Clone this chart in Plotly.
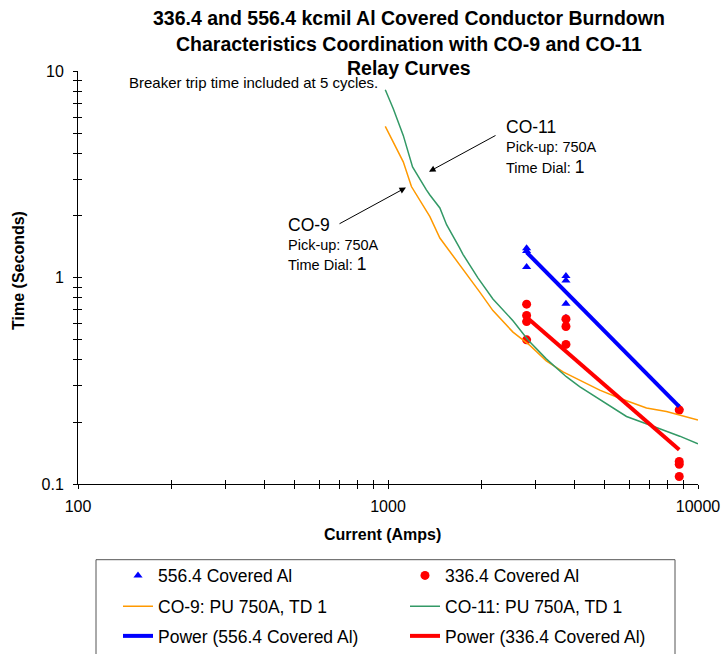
import plotly.graph_objects as go

# ---------------- data ----------------
cur_556 = [2800, 2800, 2800, 3750, 3750, 3750, 3750, 8700]
time_556 = [1.39, 1.35, 1.13, 1.02, 0.97, 0.75, 0.64, 0.235]

cur_336 = [2800, 2800, 2800, 2800, 3750, 3750, 3750, 8700, 8700, 8700, 8700]
time_336 = [0.746, 0.657, 0.614, 0.501, 0.632, 0.581, 0.476, 0.229, 0.129, 0.125, 0.109]

co9_cur = [980, 1040, 1120, 1190, 1270, 1365, 1470, 1580, 1790, 1980, 2180, 2530,
           2870, 3240, 3670, 4150, 4820, 5590, 6820, 7910, 9400, 10000]
co9_time = [5.42, 4.56, 3.65, 2.77, 2.35, 1.98, 1.56, 1.35, 1.04, 0.85, 0.694, 0.546,
            0.471, 0.396, 0.350, 0.320, 0.286, 0.261, 0.234, 0.225, 0.209, 0.205]

co11_cur = [980, 1040, 1120, 1200, 1330, 1365, 1470, 1545, 1700, 1745, 1950, 2180,
            2530, 2830, 3240, 3760, 4150, 5060, 5880, 7160, 8730, 10000]
co11_time = [8.16, 6.59, 4.90, 3.45, 2.67, 2.52, 2.18, 1.81, 1.40, 1.30, 1.0, 0.79,
             0.62, 0.50, 0.405, 0.332, 0.297, 0.247, 0.213, 0.191, 0.171, 0.157]

trend_556_cur = [2800, 8700]
trend_556_time = [1.33, 0.238]
trend_336_cur = [2800, 8700]
trend_336_time = [0.645, 0.147]

x_tickvals = [100, 200, 300, 400, 500, 600, 700, 800, 900,
              1000, 2000, 3000, 4000, 5000, 6000, 7000, 8000, 9000, 10000]
x_ticktext = ["100"] + [""] * 8 + ["1000"] + [""] * 8 + ["10000"]
y_tickvals = [0.1, 0.2, 0.3, 0.4, 0.5, 0.6, 0.7, 0.8, 0.9,
              1, 2, 3, 4, 5, 6, 7, 8, 9, 10]
y_ticktext = ["0.1"] + [""] * 8 + ["1"] + [""] * 8 + ["10"]

title_lines = ["336.4 and 556.4 kcmil Al Covered Conductor Burndown",
               "Characteristics Coordination with CO-9 and CO-11",
               "Relay Curves"]

# ---------------- layout helpers (paper == whole figure) ----------------
W, H = 725, 654
PLOT_L, PLOT_R, PLOT_T, PLOT_B = 78, 698, 72, 488
FONT = "Liberation Sans, Arial, sans-serif"


def px(xp):
    return xp / W


def py(yp):
    return 1 - yp / H


fig = go.Figure()

fig.add_trace(go.Scatter(x=cur_556, y=time_556, mode="markers", name="556.4 Covered Al",
                         marker=dict(symbol="triangle-up", size=8, color="#0000FF"),
                         legend="legend"))
fig.add_trace(go.Scatter(x=cur_336, y=time_336, mode="markers", name="336.4 Covered Al",
                         marker=dict(symbol="circle", size=9, color="#FF0000"),
                         legend="legend"))
fig.add_trace(go.Scatter(x=co9_cur, y=co9_time, mode="lines", name="CO-9: PU 750A, TD 1",
                         line=dict(color="#FF9900", width=1.5), legend="legend2"))
fig.add_trace(go.Scatter(x=co11_cur, y=co11_time, mode="lines", name="CO-11: PU 750A, TD 1",
                         line=dict(color="#339966", width=1.5), legend="legend2"))
fig.add_trace(go.Scatter(x=trend_556_cur, y=trend_556_time, mode="lines",
                         name="Power (556.4 Covered Al)",
                         line=dict(color="#0000FF", width=4), legend="legend3"))
fig.add_trace(go.Scatter(x=trend_336_cur, y=trend_336_time, mode="lines",
                         name="Power (336.4 Covered Al)",
                         line=dict(color="#FF0000", width=4), legend="legend3"))
# dummy trace for the overlay axes that draw the inner half of the crossing ticks
fig.add_trace(go.Scatter(x=[None], y=[None], xaxis="x2", yaxis="y2", showlegend=False,
                         hoverinfo="skip"))

xdom = [px(PLOT_L), px(PLOT_R)]
ydom = [py(PLOT_B), py(PLOT_T)]
axis_common = dict(type="log", showgrid=False, zeroline=False, showline=True,
                   linecolor="black", linewidth=1, ticks="outside", ticklen=4,
                   tickcolor="black", tickwidth=1, automargin=False,
                   tickfont=dict(family=FONT, size=16, color="black"))
inner_common = dict(type="log", showgrid=False, zeroline=False, showline=False,
                    ticks="inside", ticklen=4, tickcolor="black", tickwidth=1,
                    showticklabels=False, automargin=False)
fig.update_layout(
    xaxis=dict(axis_common, domain=xdom, range=[2, 4], tickvals=x_tickvals,
               ticktext=x_ticktext, ticklabelstandoff=4),
    yaxis=dict(axis_common, domain=ydom, range=[-1, 1], tickvals=y_tickvals,
               ticktext=y_ticktext, ticklabelstandoff=6),
    xaxis2=dict(inner_common, domain=xdom, range=[2, 4], overlaying="x", anchor="y",
                side="bottom", tickvals=x_tickvals),
    yaxis2=dict(inner_common, domain=ydom, range=[-1, 1], overlaying="y", anchor="x",
                side="left", tickvals=y_tickvals),
)

leg_common = dict(orientation="h", xanchor="left", yanchor="middle",
                  entrywidth=242, entrywidthmode="pixels", bgcolor="rgba(0,0,0,0)",
                  borderwidth=0, font=dict(family=FONT, size=17.5, color="black"),
                  itemclick=False, itemdoubleclick=False)
fig.update_layout(
    legend=dict(leg_common, x=px(118), y=py(580)),
    legend2=dict(leg_common, x=px(118), y=py(611)),
    legend3=dict(leg_common, x=px(118), y=py(641)),
)

# legend frame
fig.add_shape(type="rect", xref="paper", yref="paper", x0=px(96), x1=px(675),
              y0=py(660), y1=py(564), line=dict(color="#555555", width=1),
              fillcolor="rgba(0,0,0,0)", layer="below")

ann = []
for txt, yy in zip(title_lines, [18, 44, 69]):
    ann.append(dict(text="<b>" + txt + "</b>", x=px(409), y=py(yy), xanchor="center",
                    yanchor="middle", font=dict(family=FONT, size=19.5, color="black")))
ann.append(dict(text="Breaker trip time included at 5 cycles.", x=px(127), y=py(83),
                xanchor="left", yanchor="middle",
                font=dict(family=FONT, size=15, color="black")))
for xl, ys, name in [(504, (128, 148, 168), "CO-11"), (286, (227, 247, 266), "CO-9")]:
    ann.append(dict(text=name, x=px(xl), y=py(ys[0]), xanchor="left", yanchor="middle",
                    font=dict(family=FONT, size=17.5, color="black")))
    ann.append(dict(text="Pick-up: 750A", x=px(xl), y=py(ys[1]), xanchor="left",
                    yanchor="middle", font=dict(family=FONT, size=14.5, color="black")))
    ann.append(dict(text="Time Dial: <span style='font-size:17.5px'>1</span>", x=px(xl),
                    y=py(ys[2]), xanchor="left", yanchor="middle",
                    font=dict(family=FONT, size=14.5, color="black")))
# arrows
ann.append(dict(text="", x=px(429), y=py(173), ax=68, ay=-37, showarrow=True,
                arrowhead=2, arrowsize=1.3, arrowwidth=1, arrowcolor="black"))
ann.append(dict(text="", x=px(406), y=py(189), ax=-68, ay=37, showarrow=True,
                arrowhead=2, arrowsize=1.3, arrowwidth=1, arrowcolor="black"))
# axis titles
ann.append(dict(text="<b>Current (Amps)</b>", x=px(382), y=py(539), xanchor="center",
                yanchor="middle", font=dict(family=FONT, size=16, color="black")))
ann.append(dict(text="<b>Time (Seconds)</b>", x=px(19), y=py(273), xanchor="center",
                yanchor="middle", textangle=-90,
                font=dict(family=FONT, size=16, color="black")))
for a in ann:
    a.setdefault("xref", "paper")
    a.setdefault("yref", "paper")
    a.setdefault("showarrow", False)
fig.update_layout(annotations=ann)

fig.update_layout(width=W, height=H, margin=dict(l=0, r=0, t=0, b=0, pad=0),
                  paper_bgcolor="white", plot_bgcolor="white",
                  font=dict(family=FONT, color="black"), showlegend=True)

fig.write_html("out.html", config={"displayModeBar": False},
               post_script="document.body.style.margin='0';"
                           "document.body.style.padding='0';"
                           "document.body.style.overflow='hidden';")
